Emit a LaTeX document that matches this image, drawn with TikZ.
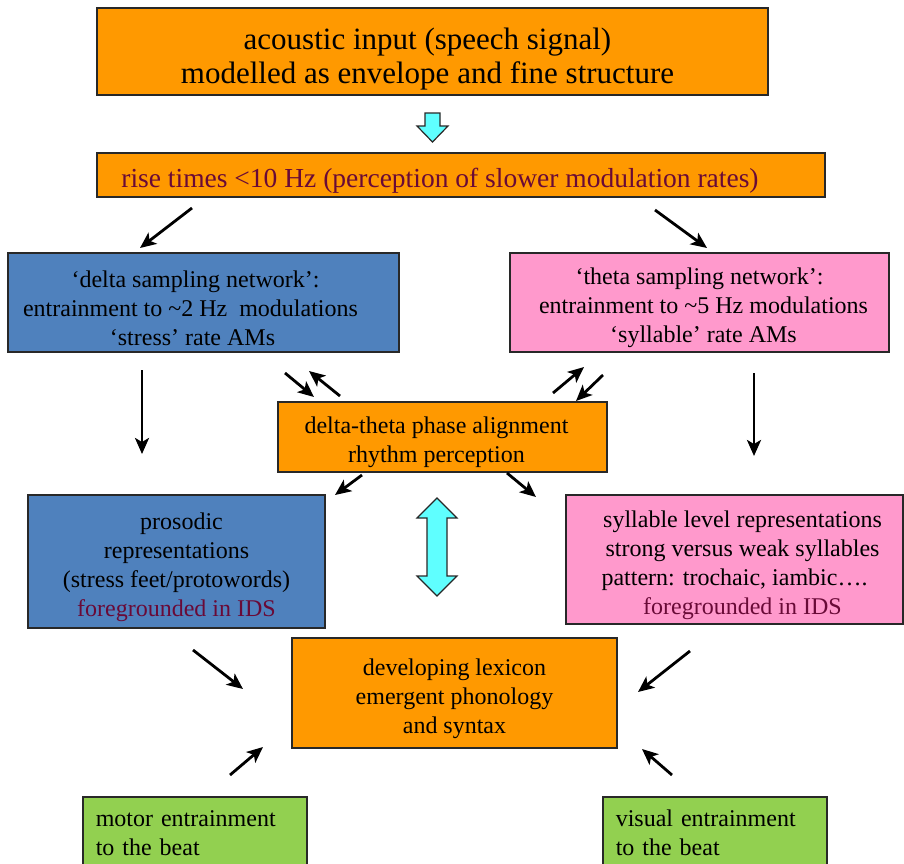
\documentclass[tikz,border=0pt]{standalone}
\usepackage{fontspec}
\setmainfont{Liberation Serif}
\usetikzlibrary{arrows.meta, positioning}
\definecolor{boxorange}{RGB}{255,153,0}
\definecolor{boxblue}{RGB}{79,129,189}
\definecolor{boxpink}{RGB}{255,153,204}
\definecolor{boxgreen}{RGB}{146,208,80}
\definecolor{boxcyan}{RGB}{95,255,255}
\definecolor{boxline}{RGB}{40,40,40}
\definecolor{idsred}{RGB}{105,10,55}
\newcommand{\shiftline}[1]{\hspace*{#1pt}}
\newcommand{\topline}{\rule{0pt}{1.15em}}
\tikzstyle{box} = [rectangle, draw=boxline, line width=1.5pt, inner sep=0pt, align=center, font=\fontsize{24}{29}\selectfont]
\tikzstyle{greenbox} = [box, fill=boxgreen, anchor=north west, minimum height=72, text width=198, inner xsep=13pt, align=left]
\tikzstyle{arrow} = [line width=2.8pt, -{Stealth[length=16pt, width=14pt, inset=4pt]}]
\tikzstyle{bigarrow} = [draw=boxline, line width=1.2pt, fill=boxcyan, line join=miter]

\begin{document}
\begin{tikzpicture}[x=1pt, y=-1pt]
\useasboundingbox (0,0) rectangle (904,863);

% boxes
\node (input) [box, fill=boxorange, minimum width=671, minimum height=87, font=\fontsize{31}{34}\selectfont] at (432.5,51.5) {\topline\shiftline{-10}acoustic input (speech signal)\\\shiftline{-10}modelled as envelope and fine structure};
\node (rise) [box, fill=boxorange, minimum width=728, minimum height=44, text=idsred, font=\fontsize{27.5}{30}\selectfont] at (461,175) {\topline\shiftline{-42}rise times <10 Hz (perception of slower modulation rates)};
\node (delta) [box, fill=boxblue, minimum width=391, minimum height=99] at (203.5,302.5) {\topline\shiftline{-16}`delta sampling network':\\\shiftline{-26}entrainment to \textasciitilde2 Hz\ \ modulations\\\shiftline{-22}`stress' rate AMs};
\node (theta) [box, fill=boxpink, minimum width=379, minimum height=99] at (699.5,302.5) {\topline`theta sampling network':\\\shiftline{8}entrainment to \textasciitilde5 Hz modulations\\\shiftline{8}`syllable' rate AMs};
\node (phase) [box, fill=boxorange, minimum width=329, minimum height=70] at (442.5,437) {\topline\shiftline{-12}delta-theta phase alignment\\\shiftline{-12}rhythm perception};
\node (prosodic) [box, fill=boxblue, minimum width=297, minimum height=133] at (176.5,561.5) {\topline\shiftline{10}prosodic\\representations\\(stress feet/protowords)\\\textcolor{idsred}{foregrounded in IDS}};
\node (syllable) [box, fill=boxpink, minimum width=337, minimum height=129] at (734.5,559.5) {\topline\shiftline{16}syllable level representations\\\shiftline{16}strong versus weak syllables\\pattern: trochaic, iambic….\\\shiftline{16}\textcolor{idsred}{foregrounded in IDS}};
\node (lexicon) [box, fill=boxorange, minimum width=325, minimum height=110] at (454.5,693) {\topline developing lexicon\\emergent phonology\\and syntax};
\node (motor) [greenbox] at (82,796) {motor entrainment\\to the beat};
\node (visual) [greenbox] at (602,796) {visual entrainment\\to the beat};

% cyan arrows
\draw[bigarrow] (425,113) -- (440,113) -- (440,126) -- (448,126) -- (432.5,142) -- (417,126) -- (425,126) -- cycle;
\draw[bigarrow] (437,498) -- (457,518) -- (447,518) -- (447,576) -- (457,576) -- (437,596) -- (417,576) -- (427,576) -- (427,518) -- (417,518) -- cycle;

% arrow ends
\coordinate (s1) at (192,208);  \coordinate (e1) at (140,248);
\coordinate (s2) at (655,210);  \coordinate (e2) at (707,248);
\coordinate (s3) at (142,370);  \coordinate (e3) at (142,454);
\coordinate (s4) at (754,373);  \coordinate (e4) at (754,456);
\coordinate (s5) at (285,373);  \coordinate (e5) at (314,397);
\coordinate (s6) at (340,396);  \coordinate (e6) at (309,371);
\coordinate (s7) at (553,393);  \coordinate (e7) at (584,367);
\coordinate (s8) at (603,375);  \coordinate (e8) at (576,401);
\coordinate (s9) at (362,475);  \coordinate (e9) at (335,495);
\coordinate (s10) at (507,473); \coordinate (e10) at (536,497);
\coordinate (s11) at (193,650); \coordinate (e11) at (243,689);
\coordinate (s12) at (690,651); \coordinate (e12) at (638,692);
\coordinate (s13) at (230,775); \coordinate (e13) at (263,747);
\coordinate (s14) at (672,775); \coordinate (e14) at (642,749);

\foreach \n in {1,...,14}
  \draw[arrow] (s\n) -- (e\n);
\end{tikzpicture}
\end{document}
